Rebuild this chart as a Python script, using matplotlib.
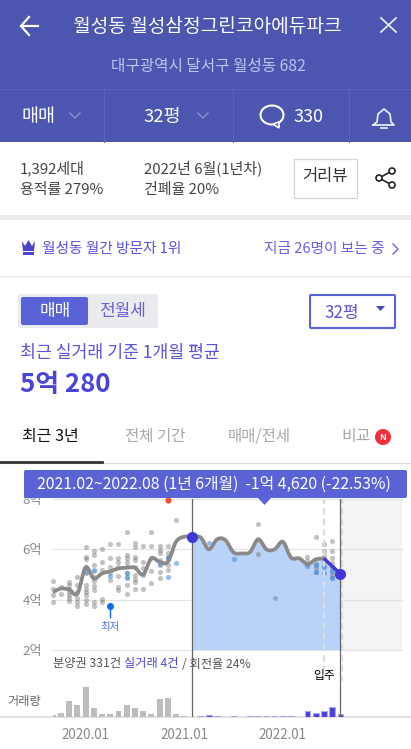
import numpy as np
import matplotlib
matplotlib.use('Agg')
import matplotlib.pyplot as plt
from matplotlib.path import Path
from matplotlib.patches import PathPatch, Rectangle, FancyBboxPatch, Circle, Ellipse, Polygon

plt.rcParams['font.family'] = ['Noto Sans CJK KR', 'DejaVu Sans']

# months counted from 2020.01 = 0
line_months = [-4, -3, -2, -1, 0, 1, 2, 3, 4, 5, 6, 7, 8, 9, 10, 11, 12, 13, 14, 15, 16, 17, 18, 19, 20, 21, 22, 23, 24, 25, 26, 27, 28, 29, 30, 31]
line_price = [4.30, 4.44, 4.40, 4.24, 5.28, 4.84, 5.04, 5.13, 5.24, 5.27, 5.27, 5.00, 5.64, 5.50, 5.50, 6.30, 6.50, 6.49, 6.47, 6.00, 6.40, 6.37, 5.88, 5.84, 5.89, 6.40, 6.00, 6.00, 6.30, 5.67, 5.64, 5.41, 5.60, 5.64, 5.33, 5.03]

gray_x = [-4, -4, -4, -4, -3, -3, -2, -2, -2, -2, -2, -2, -2, -1, -1, -1, -1, -1, -1,
          0, 0, 0, 0, 0, 0, 0, 0, 0, 0, 0, 1, 1, 1, 1, 1, 1, 1, 1, 1, 1, 2, 2, 2, 2, 2,
          3, 3, 3, 3, 3, 4, 4, 4, 4, 4, 4, 4, 5, 5, 5, 5, 5, 5, 5, 5, 5,
          6, 6, 6, 6, 6, 6, 6, 6, 6, 7, 7, 7, 7, 7, 8, 8, 8, 8, 8,
          9, 9, 9, 9, 9, 9, 9, 10, 10, 10, 10, 10, 10, 11, 21, 21, 23,
          27, 27, 27, 28, 28, 28, 28, 29, 29, 29, 29, 29, 30, 30, 30, 30, 30, 30, 30, 30]
gray_y = [4.73, 4.44, 4.17, 3.91, 4.50, 4.24, 4.70, 4.57, 4.44, 4.30, 4.17, 4.08, 3.93, 4.90, 4.60, 4.30, 4.08, 3.90, 3.75,
          6.08, 5.70, 5.60, 5.30, 5.04, 4.57, 4.44, 4.30, 4.17, 3.97, 3.84, 5.95, 5.77, 5.37, 5.15, 4.90, 4.73, 4.53, 4.37, 3.90, 3.75, 6.00, 5.50, 5.17, 4.04, 3.90,
          6.20, 5.67, 5.30, 5.04, 4.80, 6.20, 5.64, 5.50, 5.30, 4.95, 4.50, 4.40, 6.67, 5.77, 5.64, 5.50, 5.33, 5.04, 4.90, 4.57, 4.24,
          6.27, 6.11, 5.71, 5.57, 5.31, 4.97, 4.84, 4.71, 4.42, 6.13, 5.50, 5.24, 4.97, 4.44, 6.67, 6.13, 5.64, 5.13, 4.68,
          6.13, 5.97, 5.84, 5.57, 5.37, 5.10, 4.87, 6.13, 5.84, 5.71, 5.64, 5.37, 5.17, 7.16, 7.01, 5.80, 4.05,
          5.70, 5.54, 5.41, 6.48, 5.41, 5.25, 5.08, 6.22, 5.92, 5.72, 5.52, 5.32, 6.35, 5.92, 5.65, 5.45, 5.29, 5.12, 4.99, 4.85]
blue_x = [0, 1, 3, 5, 5, 9, 10, 10, 11, 15, 18, 27, 28, 28, 29, 29, 30, 30]
blue_y = [5.10, 5.17, 4.94, 5.05, 4.85, 5.42, 5.67, 4.92, 5.44, 6.27, 5.63, 5.33, 5.38, 5.10, 5.29, 5.05, 5.12, 4.85]

low_month = 3
low_price = 3.73
high_month = 10
high_price = 7.95

bar_months = [-4, -3, -2, -1, 0, 1, 2, 3, 4, 5, 6, 7, 8, 9, 10, 11, 12]
bar_counts = [2, 4, 16, 12, 30, 9, 3, 3, 6, 12, 9, 6, 3, 18, 19, 3, 1]
bar_months_sel = [14, 15, 16, 18, 20, 21, 22, 23, 24, 25, 27, 28, 29, 30, 31]
bar_counts_sel = [1, 2, 1, 1, 1, 1, 1, 1, 1, 1, 6, 4, 6, 10, 3]

price_ticks = [2, 4, 6, 8]
price_labels = ['2억', '4억', '6억', '8억']
date_ticks = [0, 12, 24]
date_labels = ['2020.01', '2021.01', '2022.01']
start_month = 13
end_month = 31
move_in_month = 29

W, H = 411, 749
HEADER = '#4c55af'
ACCENT = '#5a63d6'
PURPLE = '#5b52e0'


def pxAxes(fig, l, t, r, b, **kw):
    return fig.add_axes([l / W, 1 - b / H, (r - l) / W, (b - t) / H], **kw)


def smoothPath(x, y):
    # catmull-rom through the monthly points, drawn as bezier pieces
    x = np.asarray(x, float)
    y = np.asarray(y, float)
    verts = [(x[0], y[0])]
    codes = [Path.MOVETO]
    for i in range(len(x) - 1):
        a = max(i - 1, 0)
        d = min(i + 2, len(x) - 1)
        verts.append((x[i] + (x[i + 1] - x[a]) / 6, y[i] + (y[i + 1] - y[a]) / 6))
        verts.append((x[i + 1] - (x[d] - x[i]) / 6, y[i + 1] - (y[d] - y[i]) / 6))
        verts.append((x[i + 1], y[i + 1]))
        codes += [Path.CURVE4] * 3
    return verts, codes


def label(ax, x, y, s, size, color, ha='left', **kw):
    ax.text(x, y + 1, s, fontsize=size * 0.72, color=color, ha=ha, va='center', **kw)


def drawBackground(ax):
    ax.add_patch(Rectangle((0, 0), W, 142, color=HEADER, lw=0))
    ax.plot([0, W], [89, 89], color='#5a63b8', lw=0.8)
    for x in [104, 233, 349]:
        ax.plot([x, x], [89, 142], color='#5a63b8', lw=0.8)
    # back arrow and close
    ax.plot([21, 38], [26, 26], color='white', lw=1.6)
    ax.plot([29, 21, 29], [17, 26, 35], color='white', lw=1.6)
    ax.plot([381, 396], [18, 32], color='#e6e8f6', lw=1.3)
    ax.plot([396, 381], [18, 32], color='#e6e8f6', lw=1.3)
    label(ax, 207, 25, '월성동 월성삼정그린코아에듀파크', 19.2, 'white', ha='center')
    label(ax, 208, 66, '대구광역시 달서구 월성동 682', 15.7, '#b9c6ef', ha='center')
    label(ax, 21, 116, '매매', 18.5, 'white')
    label(ax, 143, 116, '32평', 18.5, 'white')
    label(ax, 293, 116, '330', 18, 'white')
    for x in [75, 203]:
        ax.plot([x - 5, x, x + 5], [113, 118, 113], color='#8b93cf', lw=1)
    ax.add_patch(Ellipse((272, 115), 23, 19, fc='none', ec='white', lw=1.5))
    ax.add_patch(Polygon([[273, 124], [279, 128], [279, 122]], fc=HEADER, ec='white', lw=1.2))
    ax.plot([373, 377, 378, 384, 390, 391, 394, 373], [125, 122, 114, 109, 114, 122, 125, 125], color='#e6e8f6', lw=1.3)
    ax.plot([381, 387], [128, 128], color='#e6e8f6', lw=1.3)

    label(ax, 20, 167, '1,392세대', 15, '#444444')
    label(ax, 20, 189, '용적률 279%', 15, '#444444')
    label(ax, 144, 167, '2022년 6월(1년차)', 15, '#444444')
    label(ax, 144, 189, '건폐율 20%', 15, '#444444')
    ax.add_patch(Rectangle((293.5, 158.5), 63, 39, fc='white', ec='#d5d5d5', lw=0.9))
    label(ax, 325, 176, '거리뷰', 16.5, '#333333', ha='center')
    ax.plot([392, 379, 392], [171, 178, 185], color='#222222', lw=1.2)
    for cx, cy in [(392, 171), (379, 178), (392, 185)]:
        ax.add_patch(Circle((cx, cy), 3, fc='white', ec='#222222', lw=1.2, zorder=3))
    ax.add_patch(Rectangle((0, 215), W, 5, color='#ececec', lw=0))

    ax.add_patch(Polygon([[22, 241], [25, 246], [28.5, 240], [32, 246], [35, 241], [34, 251], [23, 251]], color='#4a45c8', lw=0))
    ax.add_patch(Rectangle((23, 252), 11, 2.5, color='#4a45c8', lw=0))
    label(ax, 41.5, 248, '월성동 월간 방문자 1위', 14.7, PURPLE)
    label(ax, 384, 248, '지금 26명이 보는 중', 14.7, '#6a60e6', ha='right')
    ax.plot([393, 398, 393], [244, 249, 254], color='#6a60e6', lw=1)
    ax.plot([0, W], [276, 276], color='#e5e5e5', lw=0.9)

    ax.add_patch(FancyBboxPatch((18, 294), 140, 34, boxstyle='round,pad=0,rounding_size=2', fc='#eaebee', ec='none'))
    ax.add_patch(FancyBboxPatch((21, 297), 67, 28, boxstyle='round,pad=0,rounding_size=2', fc=ACCENT, ec='none'))
    label(ax, 55, 310, '매매', 17, 'white', ha='center')
    label(ax, 122, 310, '전월세', 17, '#6a63d8', ha='center')
    ax.add_patch(FancyBboxPatch((310, 295), 85, 33, boxstyle='round,pad=0,rounding_size=1', fc='white', ec=ACCENT, lw=1.5))
    label(ax, 342, 312, '32평', 17, '#5a55d8', ha='center')
    ax.add_patch(Polygon([[376, 306], [385, 306], [380.5, 311]], color='#4a45c8', lw=0))
    label(ax, 20, 352, '최근 실거래 기준 1개월 평균', 17.3, PURPLE)
    label(ax, 20, 383, '5억 280', 25.8, '#4a45d8', fontweight='bold')

    label(ax, 50, 435, '최근 3년', 16, '#111111', ha='center')
    label(ax, 155, 435, '전체 기간', 15.5, '#a8a8a8', ha='center')
    label(ax, 259, 435, '매매/전세', 15.5, '#a8a8a8', ha='center')
    label(ax, 356, 435, '비교', 16, '#a8a8a8', ha='center')
    ax.add_patch(Circle((383, 437), 8, color='#f0303a', lw=0))
    label(ax, 383, 436, 'N', 9, 'white', ha='center', fontweight='bold')
    ax.plot([0, W], [463, 463], color='#dddddd', lw=0.9)
    ax.plot([0, 102], [462, 462], color='#333333', lw=2)
    ax.plot([0, W], [717, 717], color='#dddddd', lw=1.2)

    label(ax, 53, 663, '분양권 331건', 12.2, '#555555')
    label(ax, 124, 663, '실거래 4건', 12.2, '#4a45e0')
    label(ax, 182, 663, '/ 회전율 24%', 12.2, '#555555')
    label(ax, 41, 701, '거래량', 12.2, '#666666', ha='right')


def drawPrice(ax):
    ax.axvspan(end_month, ax.get_xlim()[1], color='#f4f4f4', lw=0, zorder=0)
    for t in price_ticks:
        ax.axhline(t, color='#e4e4e4', lw=0.9, zorder=1, clip_on=False)
    ax.set_yticks(price_ticks, price_labels)
    ax.tick_params(axis='y', length=0, pad=8, labelsize=9.5, labelcolor='#888888')
    ax.set_xticks([])

    i0 = line_months.index(start_month)
    i1 = line_months.index(move_in_month)
    # gray line stops where the blue end piece takes over
    verts, codes = smoothPath(line_months[:i1 + 1], line_price[:i1 + 1])
    sel_v, sel_c = smoothPath(line_months[i0:], line_price[i0:])
    area_v = sel_v + [(end_month, price_ticks[0]), (start_month, price_ticks[0]), (start_month, price_ticks[0])]
    area_c = sel_c + [Path.LINETO, Path.LINETO, Path.CLOSEPOLY]
    ax.add_patch(PathPatch(Path(area_v, area_c), fc='#b8d2f8', ec='none', zorder=2))

    ax.scatter(gray_x, gray_y, s=14, color='#707070', alpha=0.42, lw=0, zorder=3, clip_on=False)
    ax.scatter(blue_x, blue_y, s=14, color='#3f8ee8', alpha=0.55, lw=0, zorder=3)
    ax.add_patch(PathPatch(Path(verts, codes), fc='none', ec='#8a8a8a', lw=2.7, zorder=4, capstyle='round'))

    end_v, end_c = smoothPath(line_months[i1:], line_price[i1:])
    ax.add_patch(PathPatch(Path(end_v, end_c), fc='none', ec='#3f37d8', lw=2.5, zorder=5))
    ax.plot([start_month, end_month], [line_price[i0], line_price[-1]], 'o', color='#3f37d8', ms=8, mew=0, zorder=6)

    ax.axvline(start_month, color='#666666', lw=0.9, zorder=5)
    ax.axvline(end_month, color='#666666', lw=0.9, zorder=5)
    for m in [move_in_month, end_month + 0.25]:
        ax.axvline(m, color='#dcdcdc', lw=1.5, ls=(0, (3, 2)), zorder=3)

    ax.plot([low_month, low_month], [low_price, low_price - 0.42], color='#0a6cf0', lw=1, zorder=5)
    ax.plot([low_month], [low_price], 'o', color='#0a6cf0', ms=5, mew=0, zorder=6)
    ax.text(low_month, low_price - 0.8, '최저', fontsize=7.5, color='#4a70e8', ha='center', va='center')
    ax.plot([high_month], [high_price], 'o', color='#f0552a', ms=4.5, mew=0, zorder=3, clip_on=False)
    for s in ax.spines.values():
        s.set_visible(False)


def drawVolume(ax):
    ax.bar(bar_months, bar_counts, width=0.72, color='#bdbdbd', lw=0)
    ax.bar(bar_months_sel, bar_counts_sel, width=0.68, color='#4a3fdc', ec='#aaa8ea', lw=0.8)
    ax.axvline(start_month, color='#666666', lw=0.9)
    ax.axvline(end_month, color='#666666', lw=0.9)
    ax.axvline(move_in_month, ymin=0.67, color='#dcdcdc', lw=1.5, ls=(0, (3, 2)))
    ax.axvline(end_month + 0.25, ymin=0.52, color='#dcdcdc', lw=1.5, ls=(0, (3, 2)))
    ax.text(move_in_month, 41, '입주', fontsize=8.5, color='black', ha='center', va='center', zorder=5,
            bbox=dict(fc='white', ec='none', pad=0.5))
    ax.set_xticks(date_ticks, date_labels)
    ax.tick_params(axis='x', length=0, pad=8, labelsize=9.6, labelcolor='#888888')
    ax.set_yticks([])
    for s in ax.spines.values():
        s.set_visible(False)


def drawBanner(ax):
    ax.add_patch(FancyBboxPatch((24, 470), 383, 28, boxstyle='round,pad=0,rounding_size=2', fc=ACCENT, ec='none'))
    ax.add_patch(Polygon([[258, 498], [271, 498], [264.5, 505]], color=ACCENT, lw=0))
    label(ax, 37, 483, '2021.02~2022.08 (1년 6개월)  -1억 4,620 (-22.53%)', 15.8, 'white')


def main():
    fig = plt.figure(figsize=(W / 100, H / 100), dpi=100)
    bg = pxAxes(fig, 0, 0, W, H, zorder=0)
    top = pxAxes(fig, 0, 0, W, H, zorder=3)
    for ax in [bg, top]:
        ax.set_xlim(0, W)
        ax.set_ylim(H, 0)
        ax.axis('off')

    xlim = (-3.97, 38.5)
    price = pxAxes(fig, 53, 499, 402, 650, zorder=1, facecolor='none')
    price.set_xlim(xlim)
    price.set_ylim(2, 8)
    volume = pxAxes(fig, 53, 650, 402, 717, zorder=2, facecolor='none')
    volume.set_xlim(xlim)
    volume.set_ylim(0, 67)

    drawBackground(bg)
    drawPrice(price)
    drawVolume(volume)
    drawBanner(top)
    fig.savefig('out.png', dpi=100)


if __name__ == '__main__':
    main()
